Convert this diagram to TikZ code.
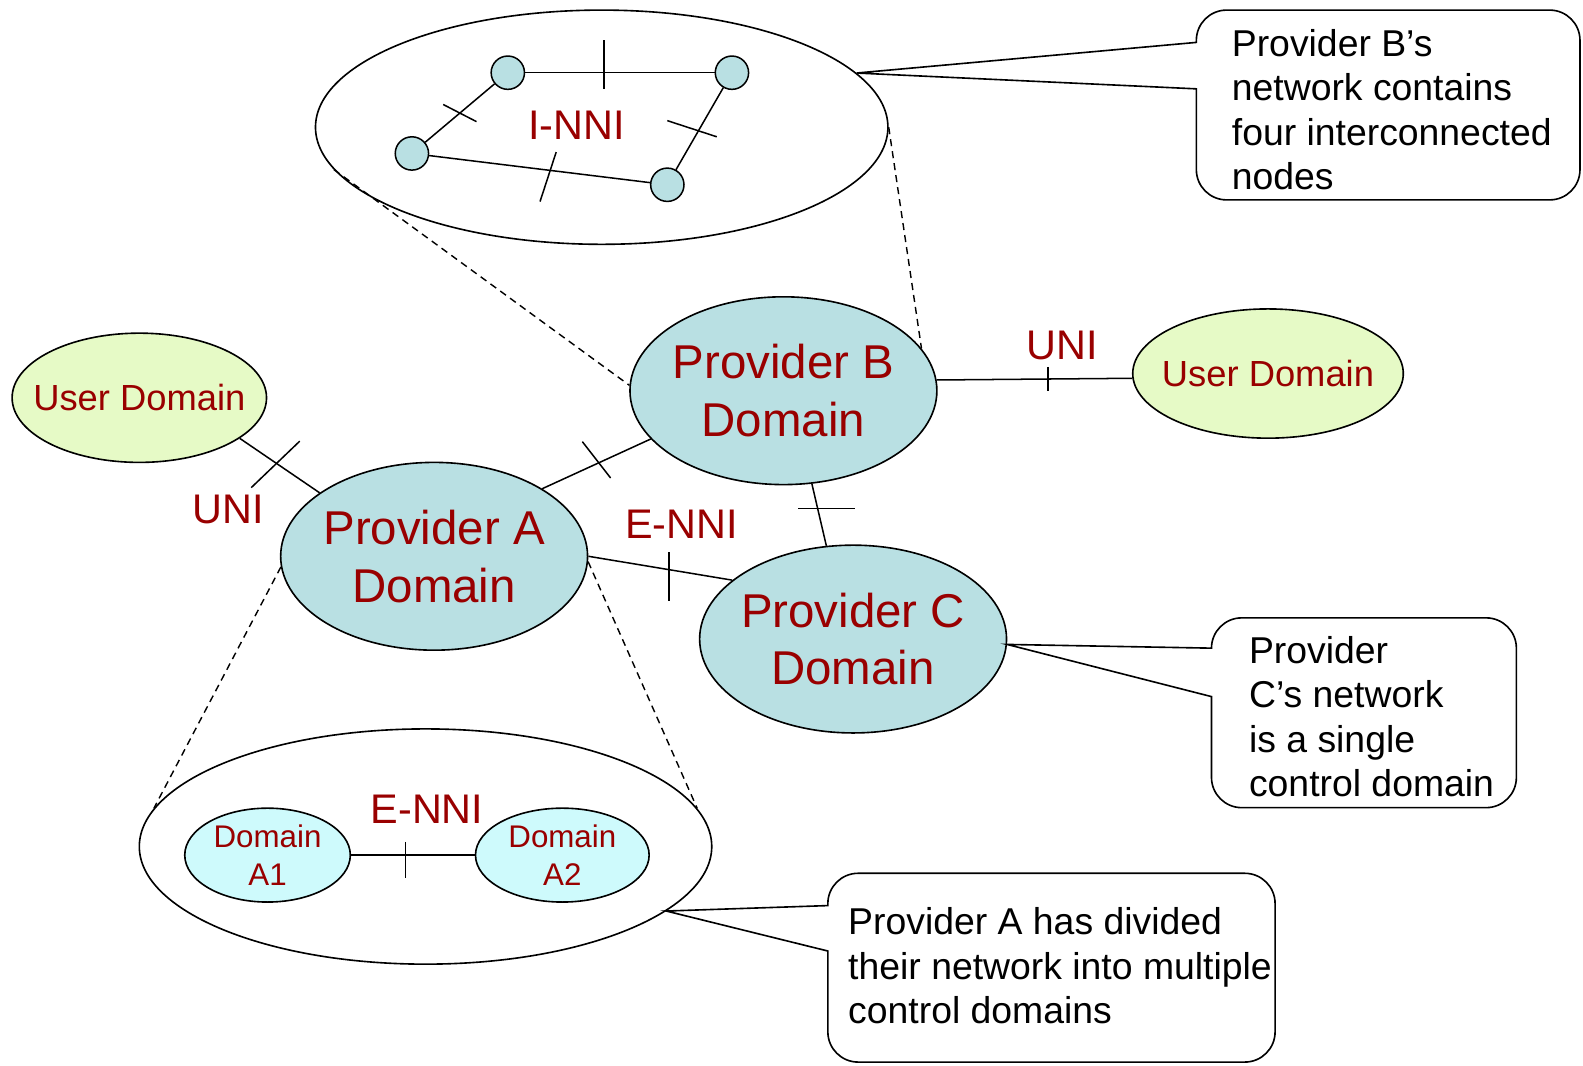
\documentclass[tikz,border=0pt]{standalone}
\usepackage{fontspec}
\setmainfont{Liberation Sans}
\usetikzlibrary{shapes.geometric,calc}
\definecolor{dred}{RGB}{153,0,0}
\definecolor{pblue}{RGB}{185,224,227}
\definecolor{ugreen}{RGB}{230,250,198}
\definecolor{acyan}{RGB}{206,250,252}
\begin{document}
\begin{tikzpicture}[x=1pt,y=-1pt,
  ell/.style 2 args={ellipse, draw, line width=1.6pt, inner sep=0pt, minimum width=#1, minimum height=#2},
  smallc/.style={circle, draw, line width=1.5pt, fill=pblue, minimum size=33pt, inner sep=0pt},
  ptxt/.style={text=dred, font=\fontsize{47}{57}\selectfont, align=center, inner sep=0pt},
  utxt/.style={text=dred, font=\fontsize{36}{43}\selectfont, align=center, inner sep=0pt},
  atxt/.style={text=dred, font=\fontsize{31}{38}\selectfont, align=center, inner sep=0pt},
  ltxt/.style={text=dred, font=\fontsize{41}{49}\selectfont, inner sep=0pt},
  ctxt/.style={text=black, font=\fontsize{37}{44}\selectfont, align=left, inner sep=0pt, anchor=north west},
  conn/.style={line width=1.5pt},
  tick/.style={line width=1.5pt},
  dsh/.style={line width=1.4pt, dash pattern=on 7pt off 5pt},
  cbox/.style={line width=1.6pt, fill=white},
]
\useasboundingbox (0,0) rectangle (1568,1055);

% zoom ellipses
\node[ell={567}{232}, fill=white] (T) at (596,126) {};
\node[ell={567}{233}, fill=white] (Bo) at (421.5,838.5) {};

% main domains
\node[ell={304}{186}, fill=pblue, label={[ptxt]center:{Provider A\\Domain}}] (pa) at (430,551) {};
\node[ell={304}{186}, fill=pblue, label={[ptxt]center:{Provider B\\Domain}}] (pb) at (776,387) {};
\node[ell={304}{186}, fill=pblue, label={[ptxt]center:{Provider C\\Domain}}] (pc) at (845,633) {};
\node[ell={252}{128}, fill=ugreen, label={[utxt]center:User Domain}] (ul) at (138,394) {};
\node[ell={268}{128}, fill=ugreen, label={[utxt]center:User Domain}] (ur) at (1256,370) {};

% sub domains of A
\node[ell={164}{93}, fill=acyan, label={[atxt]center:{Domain\\A1}}] (a1) at (265,847) {};
\node[ell={172}{93}, fill=acyan, label={[atxt]center:{Domain\\A2}}] (a2) at (557,847) {};

% nodes of B
\node[smallc] (n1) at (503,72) {};
\node[smallc] (n2) at (725,72) {};
\node[smallc] (n3) at (408,152) {};
\node[smallc] (n4) at (661,183) {};

% labels
\node[ltxt] (inni) at (571,124) {I-NNI};
\node[ltxt] (enni1) at (675,519) {E-NNI};
\node[ltxt] (enni2) at (423,802) {E-NNI};
\node[ltxt] (uni1) at (226,505) {UNI};
\node[ltxt] (uni2) at (1052,342) {UNI};

% connectors with ticks
\draw[conn] (ul.-22) -- coordinate[pos=0.46](k1) (pa.151.6);
\draw[tick] ($(k1)+(23,-22)$) -- ($(k1)+(-25,24)$);
\draw[conn] (pa.32.5) -- coordinate[pos=0.5](k2) (pb.200.5);
\draw[tick] ($(k2)+(-14,-22)$) -- ($(k2)+(14,14)$);
\draw[conn] (pa.0) -- coordinate[pos=0.56](k3) (pc.154.4);
\draw[tick] ($(k3)+(0,-17)$) -- ($(k3)+(0,31)$);
\draw[conn] (pb.287.3) -- coordinate[pos=0.4](k4) (pc.106.2);
\draw[tick] ($(k4)+(-19,0)$) -- ($(k4)+(37,0)$);
\draw[conn] (pb.4.1) -- coordinate[pos=0.57](k5) (ur.182.6);
\draw[tick] ($(k5)+(0,-12)$) -- ($(k5)+(0,12)$);
\draw[conn] (a1) -- coordinate[pos=0.44](k6) (a2);
\draw[tick] ($(k6)+(0,-13)$) -- ($(k6)+(0,23)$);

\draw[conn] (n1) -- coordinate[pos=0.415](m1) (n2);
\draw[tick] ($(m1)+(0,-32)$) -- ($(m1)+(0,16)$);
\draw[conn] (n1) -- coordinate[pos=0.5](m2) (n3);
\draw[tick] ($(m2)+(-16.5,-8.5)$) -- ($(m2)+(16.5,8.5)$);
\draw[conn] (n2) -- coordinate[pos=0.5](m3) (n4);
\draw[tick] ($(m3)+(-32,-8)$) -- ($(m3)+(17,8)$);
\draw[conn] (n3) -- coordinate[pos=0.543](m4) (n4);
\draw[tick] ($(m4)+(7,-18)$) -- ($(m4)+(-9,31)$);

% dashed zoom lines
\draw[dsh] (T.189) -- (pb.178.5);
\draw[dsh] (T.-0.8) -- (pb.17.6);
\draw[dsh] (pa.184.5) -- (Bo.172.4);
\draw[dsh] (pa.-2.2) -- (Bo.8);

% callouts
\coordinate (tipB) at (T.12.3);
\coordinate (tipC) at (pc.-2.6);
\coordinate (tipA) at (Bo.-15.2);
\draw[cbox] (tipB) -- (1185,42) [rounded corners=30pt] -- (1185,10) -- (1565,10) -- (1565,198) -- (1185,198) [sharp corners] -- (1185,88) -- cycle;
\draw[cbox] (tipC) -- (1200,642) [rounded corners=30pt] -- (1200,612) -- (1502,612) -- (1502,800) -- (1200,800) [sharp corners] -- (1200,690) -- cycle;
\draw[cbox] (tipA) -- (820,897) [rounded corners=30pt] -- (820,865) -- (1263,865) -- (1263,1052) -- (820,1052) [sharp corners] -- (820,942) -- cycle;

\node[ctxt] (cB) at (1220,29) {Provider B’s\\network contains\\four interconnected\\nodes};
\node[ctxt] (cC) at (1237,630) {Provider\\C’s network\\is a single\\control domain};
\node[ctxt] (cA) at (840,899) {Provider A has divided\\their network into multiple\\control domains};
\end{tikzpicture}
\end{document}
